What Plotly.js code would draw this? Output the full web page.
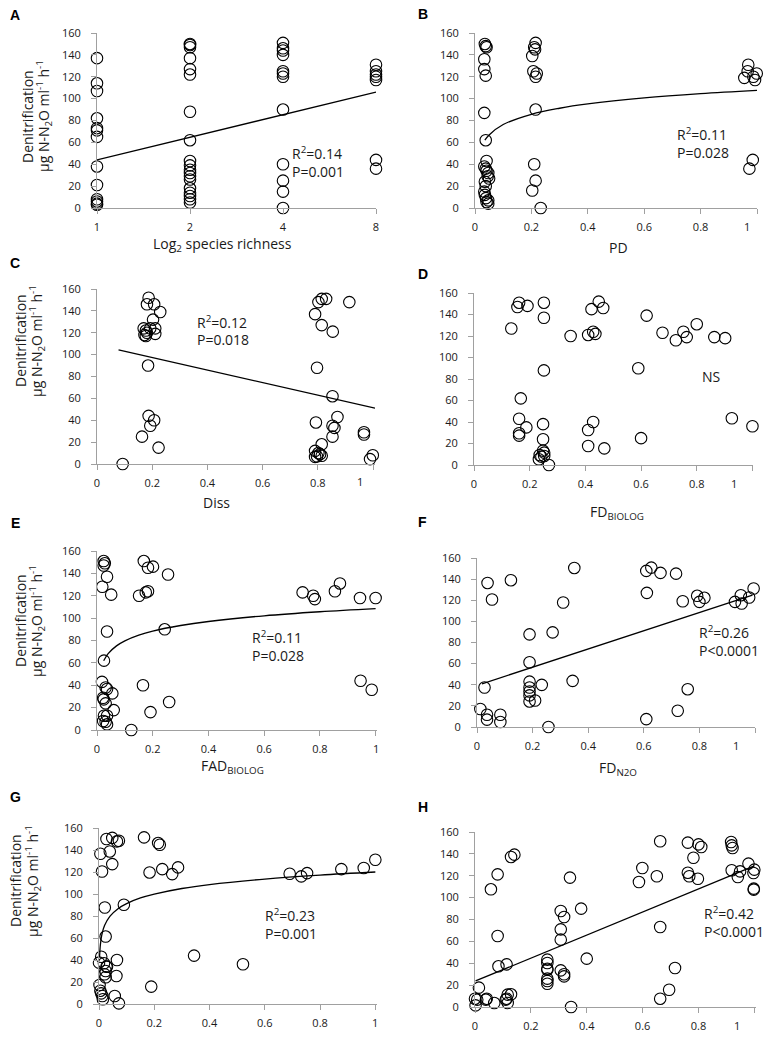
<!DOCTYPE html>
<html><head><meta charset="utf-8">
<script src="https://cdn.plot.ly/plotly-3.0.1.min.js"></script>
<style>html,body{margin:0;padding:0;background:#fff}#chart{width:774px;height:1042px}</style>
</head><body><div id="chart"></div>
<script>
// ---------------- DATA ----------------
// A: log2 species richness (x = richness 1,2,4,8)
const aX = [1,1,1,1,1,1,1,1,1,1,1,1,1,
  2,2,2,2,2,2,2,2,2,2,2,2,2,2,2,2,2,2,2,
  4,4,4,4,4,4,4,4,4,4,4,4,
  8,8,8,8,8,8,8];
const aY = [137,114,107,82,73,71,65,38,21,8,6,4,3,
  150,149,147,137,127,122,88,62,43,39,35,32,29,26,18,14,11,8,5,
  151,146,144,140,125,123,120,90,40,25,15,0,
  131,125,122,120,117,44,36];
const aFitX = [1,8];
const aFitY = [44,106];

// B: PD
const bX = [0.035,0.038,0.041,0.033,0.033,0.038,0.033,0.038,0.041,0.033,0.038,0.041,0.047,0.045,0.05,0.035,0.038,0.033,0.035,0.039,0.047,0.041,0.047,
  0.215,0.21,0.213,0.203,0.207,0.219,0.215,0.215,0.21,0.215,0.203,0.233,
  0.969,0.967,0.955,0.999,0.987,0.993,0.985,0.973];
const bY = [150,148,147,136,127,121,87,62,43,38,36,34,32,29,27,24,20,15,12,9,7,5.5,4,
  151,147,145,139,125,123,120,90,40,25,16,0,
  131,125,119,123,120,117,44,36];
const bFitX = [0.035,0.05,0.1,0.2,0.3,0.4,0.6,0.8,1.0];
const bFitY = [62.0,66.8,76.3,85.7,91.2,95.1,100.6,104.5,107.5];

// C: Diss
const cX = [0.093,
  0.187,0.181,0.207,0.229,0.203,0.211,0.193,0.169,0.177,0.181,0.172,0.211,0.177,0.185,0.187,0.193,0.207,0.163,0.223,
  0.802,0.814,0.83,0.79,0.814,0.854,0.797,0.914,0.853,0.793,0.871,0.853,0.86,0.853,0.814,0.79,0.802,0.797,0.814,0.79,0.808,0.967,0.967,0.999,0.989];
const cY = [0,
  152,146,146,139,132,124,124,124,122,120,118,119,117,90,44,35,40,25,15,
  148,151,151,137,127,121,88,148,62,38,43,35,33,25,18,12,10,7,7.5,6.5,9,29,27,8,4.5];
const cFitX = [0.078,1.007];
const cFitY = [104.4,51];

// D: FD_BIOLOG
const dX = [0.162,0.156,0.192,0.134,0.251,0.251,0.347,0.448,0.422,0.464,0.41,0.428,0.436,0.251,0.59,0.62,0.677,0.725,0.752,0.764,0.8,0.863,0.902,0.926,1.0,
  0.168,0.162,0.188,0.162,0.162,0.248,0.248,0.248,0.252,0.236,0.242,0.233,0.252,0.269,0.41,0.428,0.41,0.468,0.6];
const dY = [151,147,148,127,151,137,120,152,145,146,121,124,122,88,90,139,123,116,124,119,131,119,118,43.5,36,
  62,43,35,29.5,27.3,38,24,13.4,11.5,9.3,7.8,5.3,8.4,0,32.6,40,17.7,15.5,25];

// E: FAD_BIOLOG
const eX = [0.024,0.028,0.024,0.036,0.019,0.051,0.036,0.025,0.018,0.031,0.036,0.022,0.024,0.031,0.055,0.06,0.025,0.036,0.022,0.031,0.036,0.123,
  0.168,0.183,0.201,0.255,0.151,0.175,0.183,0.165,0.192,0.259,0.243,
  0.738,0.776,0.782,0.854,0.872,0.944,1.0,0.946,0.986];
const eY = [151,149,147,137,128,121,88,62,43,38,36.6,28.8,27.4,23.8,32.7,17.8,12.8,12.8,8,7.4,5,0,
  151,145,146,139,120,123,124,40,16,25,90,
  123,120,117,124,131,118,118,44,36];
const eFitX = [0.024,0.04,0.07,0.1,0.15,0.2,0.3,0.4,0.6,0.8,1.0];
const eFitY = [61.9,68.3,75.2,79.7,84.8,88.4,93.4,97.0,102.1,105.7,108.5];

// F: FD_N2O
const fX = [0.012,0.036,0.036,0.027,0.038,0.054,0.122,0.084,0.084,0.257,0.189,0.189,0.189,0.189,0.189,0.189,0.189,0.209,0.233,0.272,0.31,0.35,0.344,
  0.609,0.627,0.66,0.611,0.609,0.716,0.74,0.722,0.758,0.792,0.818,0.8,0.928,0.949,0.952,0.979,0.995];
const fY = [17,11.6,7,37.4,136.4,120.7,139,11.6,4.7,0,87.7,61.3,43,37.4,33.6,29.9,24.2,25.1,39.9,89.6,117.9,150.6,43.7,
  147.8,150.9,145.9,127,7.5,145.2,119.1,15.4,35.8,124.2,122.3,118.5,118.5,124.8,116.9,122.6,131.1];
const fFitX = [0.018,0.991];
const fFitY = [40.9,124.8];

// G
const gX = [0,0.008,0.002,0.005,0.008,0.012,0.014,0.005,0.011,0.021,0.024,0.018,0.027,0.024,0.02,0.024,0.029,
  0.027,0.048,0.065,0.072,0.039,0.048,0.065,0.063,0.057,0.072,0.09,
  0.163,0.214,0.22,0.183,0.229,0.265,0.286,0.189,0.344,0.521,
  0.69,0.732,0.753,0.877,0.958,1.0];
const gY = [37.6,43,17.3,12.1,9.7,7.3,4.3,136.6,120.5,87.7,61.3,37,34,30,27,24.3,34,
  150,151,147.8,148.4,138.7,127.2,40,25.5,7.3,0.6,90.2,
  151.5,146.3,144.8,119.6,122.6,118.1,124.2,15.8,44,36.1,
  118.4,116,119,122.6,123.6,131.1];
const gFitX = [0.002,0.005,0.01,0.02,0.04,0.07,0.1,0.15,0.2,0.3,0.4,0.6,0.8,1.0];
const gFitY = [42.6,54.0,62.6,71.3,79.9,86.9,91.3,96.4,99.9,105.0,108.6,113.6,117.2,120];

// H
const hX = [0,0.002,0.014,0.008,0.042,0.039,0.069,0.057,0.081,0.081,0.084,0.113,0.11,0.117,0.117,0.129,0.113,0.129,0.141,
  0.259,0.259,0.259,0.259,0.259,0.259,0.259,0.307,0.319,0.307,0.307,0.307,0.319,0.319,0.34,0.38,0.4,0.344,
  0.587,0.599,0.651,0.663,0.663,0.663,0.695,0.716,0.762,0.762,0.767,0.782,0.798,0.8,0.81,
  0.917,0.919,0.922,0.919,0.941,0.949,0.979,0.997,1.0,0.998,0.998];
const hY = [7.6,1.5,17.7,6.7,7.6,6.7,3.7,107.6,121.3,64.9,37.2,39,6.7,11.3,3.7,11.6,7.6,137.2,139.3,
  43.3,40.2,35,34,25.9,23.8,21.3,87.8,82.3,71,61.6,33.5,29.9,28,118.3,89.9,44.2,0,
  114.3,127.1,119.5,151.5,73.1,7.6,15.8,35.7,150.3,122.8,119.5,136.5,117.3,148.7,146.3,
  150.9,147.8,145.4,125,118.9,124,131.1,122.5,125.6,108.2,107.3];
const hFitX = [0.002,1.0];
const hFitY = [23.8,129];

const yTicks = [0,20,40,60,80,100,120,140,160];
const xTicks = [0,0.2,0.4,0.6,0.8,1];
const xTickText = ['0','0.2','0.4','0.6','0.8',''];
const aTicks = [1,2,4,8];
const aTickText = ['1','2','4','8'];

const fitStats = {
  A:['R<sup>2</sup>=0.14','P=0.001'], B:['R<sup>2</sup>=0.11','P=0.028'], C:['R<sup>2</sup>=0.12','P=0.018'],
  E:['R<sup>2</sup>=0.11','P=0.028'], F:['R<sup>2</sup>=0.26','P<0.0001'], G:['R<sup>2</sup>=0.23','P=0.001'],
  H:['R<sup>2</sup>=0.42','P<0.0001']
};

// ---------------- LAYOUT ----------------
const W = 774, H = 1042;
const PX = v => v / W, PY = v => 1 - v / H;
const AX = '#a0a0a0';
const FONT = 'Open Sans, sans-serif';

const panels = [
  {id:'A', box:[97,376,33,208], x:aX, y:aY, fx:aFitX, fy:aFitY},
  {id:'B', box:[475,757,33,208], xmax:1.0, x:bX, y:bY, fx:bFitX, fy:bFitY},
  {id:'C', box:[97,375,289,464], xmax:1.007, x:cX, y:cY, fx:cFitX, fy:cFitY},
  {id:'D', box:[474,753,293,465], xmax:1.002, x:dX, y:dY},
  {id:'E', box:[97,377,551,730], xmax:1.005, x:eX, y:eY, fx:eFitX, fy:eFitY},
  {id:'F', box:[477,755,558,727], xmax:1.0, x:fX, y:fY, fx:fFitX, fy:fFitY},
  {id:'G', box:[99,377,828,1004], xmax:1.006, x:gX, y:gY, fx:gFitX, fy:gFitY},
  {id:'H', box:[475,756,832,1007], xmax:1.006, x:hX, y:hY, fx:hFitX, fy:hFitY}
];

const data = [];
const layout = {
  width: W, height: H, margin:{l:0,r:0,t:0,b:0}, showlegend:false,
  paper_bgcolor:'#fff', plot_bgcolor:'rgba(0,0,0,0)',
  font:{family:FONT, size:11, color:'#1a1a1a'},
  annotations: []
};

panels.forEach((p, i) => {
  const n = i === 0 ? '' : String(i + 1);
  const [l, r, t, b] = p.box;
  const common = {showline:true, linecolor:AX, linewidth:1, ticks:'outside', ticklen:5, tickwidth:1, tickcolor:AX,
    showgrid:false, zeroline:false, fixedrange:true, tickfont:{family:FONT, size:11, color:'#1a1a1a'}};
  const xa = Object.assign({}, common, {domain:[PX(l), PX(r)], anchor:'y' + n, ticklabelstandoff:4});
  if (p.id === 'A') {
    Object.assign(xa, {type:'log', range:[0, Math.log10(8)], tickvals:aTicks, ticktext:aTickText});
  } else {
    Object.assign(xa, {range:[0, p.xmax], tickvals:xTicks, ticktext:xTickText});
  }
  const ya = Object.assign({}, common, {domain:[PY(b), PY(t)], anchor:'x' + n, range:[0,160], tickvals:yTicks, ticklabelstandoff:8});
  layout['xaxis' + n] = xa;
  layout['yaxis' + n] = ya;

  data.push({type:'scatter', mode:'markers', x:p.x, y:p.y, xaxis:'x'+n, yaxis:'y'+n, cliponaxis:false,
    marker:{symbol:'circle-open', size:11.5, color:'#000', line:{width:1.1, color:'#000'}}, hoverinfo:'skip'});
  if (p.fx) {
    data.push({type:'scatter', mode:'lines', x:p.fx, y:p.fy, xaxis:'x'+n, yaxis:'y'+n, cliponaxis:false,
      line:{color:'#000', width:1.3, shape: p.fx.length > 2 ? 'spline' : 'linear'}, hoverinfo:'skip'});
  }
});

// "1" tick labels drawn separately (displaced in most panels)
const oneLabels = [
  {ax:'x2', x:0.965, y:226}, {ax:'x3', x:0.953, y:482}, {ax:'x4', x:0.932, y:483},
  {ax:'x6', x:0.931, y:745}, {ax:'x8', x:0.937, y:1025},
  {ax:'x5', x:1.0, y:748}, {ax:'x7', x:1.0, y:1022}
];
oneLabels.forEach(o => layout.annotations.push({xref:o.ax, yref:'paper', x:o.x, y:PY(o.y), text:'1', showarrow:false,
  xanchor:'center', yanchor:'middle', font:{family:FONT, size:11, color:'#1a1a1a'}}));

function ann(text, x, y, opts) {
  layout.annotations.push(Object.assign({xref:'paper', yref:'paper', x:PX(x), y:PY(y), text:text, showarrow:false,
    xanchor:'center', yanchor:'middle', font:{family:FONT, size:14, color:'#1a1a1a'}}, opts || {}));
}

// panel letters
const letters = [['A',15,15],['B',423,14],['C',15,263],['D',423,274],['E',15,523],['F',422,522],['G',15,797],['H',423,807]];
letters.forEach(L => ann('<b>' + L[0] + '</b>', L[1], L[2], {font:{family:'Liberation Sans, Arial, sans-serif', size:14, color:'#000'}}));

// x axis titles
ann('Log<sub>2</sub> species richness', 222, 245);
ann('PD', 618, 247);
ann('Diss', 217, 502);
ann('FD<sub>BIOLOG</sub>', 617, 512);
ann('FAD<sub>BIOLOG</sub>', 232, 766);
ann('FD<sub>N2O</sub>', 618, 769);

// y axis titles
const yTitles = [[28,44,116],[20,37,341],[20,37,621],[15,33,881]];
yTitles.forEach(t => {
  ann('Denitrification', t[0], t[2], {textangle:-90});
  ann('μg N-N<sub>2</sub>O ml<sup>-1</sup> h<sup>-1</sup>', t[1], t[2], {textangle:-90});
});

// stats text
const statPos = {A:[290,153], B:[675,134], C:[195,322], E:[250,637], F:[697,632], G:[263,915], H:[702,913]};
Object.keys(statPos).forEach(k => {
  const [x, y] = statPos[k];
  ann(fitStats[k][0], x, y, {xanchor:'left'});
  ann(fitStats[k][1], x, y + 18, {xanchor:'left'});
});
ann('NS', 711, 377);

Plotly.newPlot('chart', data, layout, {staticPlot:true, displayModeBar:false});
</script></body></html>
